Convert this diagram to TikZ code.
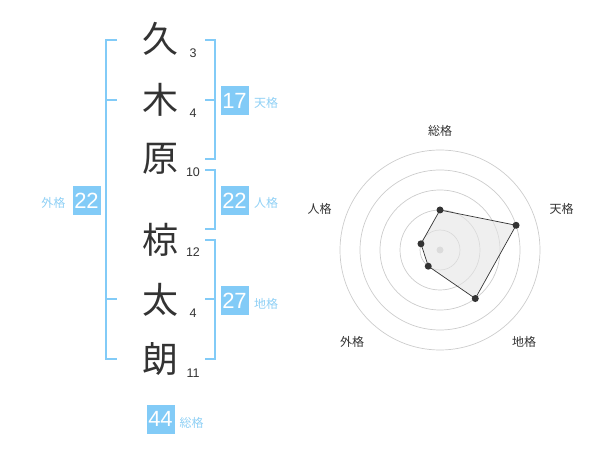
\documentclass[tikz,border=0pt]{standalone}
\usepackage{fontspec}
\setmainfont{Noto Sans CJK JP}
\newfontfamily\numfont{Liberation Sans}
\definecolor{kblue}{HTML}{82CBF7}
\definecolor{klabel}{HTML}{8FD0F5}
\definecolor{kdark}{HTML}{333333}
\definecolor{kring}{HTML}{CCCCCC}
\begin{document}
\begin{tikzpicture}[x=1pt,y=-1pt,
  kanji/.style={font=\fontsize{36}{36}\selectfont, text=kdark, inner sep=0pt},
  strokes/.style={font=\numfont\fontsize{12.5}{12.5}\selectfont, text=kdark, inner sep=0pt},
  numbox/.style={fill=kblue, text=white, minimum width=28pt, minimum height=29pt, inner sep=0pt, font=\numfont\fontsize{22}{22}\selectfont},
  kaku/.style={text=klabel, font=\fontsize{12}{12}\selectfont, inner sep=0pt},
  bracket/.style={draw=kblue, line width=2pt},
  ring/.style={draw=kring, line width=0.7pt},
  rlabel/.style={text=kdark, font=\fontsize{12}{12}\selectfont, inner sep=0pt},
  dot/.style={circle, fill=kdark, inner sep=0pt, minimum size=7pt}
]
\useasboundingbox (0,0) rectangle (600,470);
% characters
\node[kanji] (c1) at (160,39) {久};
\node[kanji] (c2) at (160,100) {木};
\node[kanji] (c3) at (160,159) {原};
\node[kanji] (c4) at (160,240) {椋};
\node[kanji] (c5) at (160,300) {太};
\node[kanji] (c6) at (160,359) {朗};
\node[strokes] (s1) at (193,53) {3};
\node[strokes] (s2) at (193,113) {4};
\node[strokes] (s3) at (193,172.5) {10};
\node[strokes] (s4) at (193,252.5) {12};
\node[strokes] (s5) at (193,313) {4};
\node[strokes] (s6) at (193,373) {11};
% brackets
\draw[bracket] (117,40) -- (106,40) -- (106,359.3) -- (117,359.3);
\draw[bracket] (106,100) -- (117,100);
\draw[bracket] (106,299.3) -- (117,299.3);
\draw[bracket] (205,40) -- (214.5,40) -- (214.5,159.3) -- (205,159.3);
\draw[bracket] (205,100) -- (214.5,100);
\draw[bracket] (205,170) -- (214.5,170) -- (214.5,229.3) -- (205,229.3);
\draw[bracket] (205,240) -- (214.5,240) -- (214.5,359.3) -- (205,359.3);
\draw[bracket] (205,299.3) -- (214.5,299.3);
% boxes
\node[numbox] (ten) at (234.5,100.5) {17};
\node[kaku] (tenl) at (266,103) {天格};
\node[numbox] (jin) at (234.5,200.5) {22};
\node[kaku] (jinl) at (266,203) {人格};
\node[numbox] (chi) at (234.5,300.5) {27};
\node[kaku] (chil) at (266,303.5) {地格};
\node[numbox] (gai) at (86.5,200.5) {22};
\node[kaku] (gail) at (53.5,203) {外格};
\node[numbox] (sou) at (160.5,419) {44};
\node[kaku] (soul) at (191.5,422.5) {総格};
% radar
\foreach \r in {20,40,60,80,100} \draw[ring] (440,250) circle[radius=\r];
\fill[kring] (440,250) circle[radius=3.5];
\coordinate (pS) at (440,210);
\coordinate (pT) at (516.08,225.28);
\coordinate (pC) at (475.27,298.54);
\coordinate (pG) at (428.24,266.18);
\coordinate (pJ) at (420.98,243.82);
\filldraw[fill=black!10, fill opacity=0.6, draw=kdark, line width=0.7pt] (pS) -- (pT) -- (pC) -- (pG) -- (pJ) -- cycle;
\foreach \p in {pS,pT,pC,pG,pJ} \node[dot] at (\p) {};
\node[rlabel] (rS) at (440,130.5) {総格};
\node[rlabel] (rT) at (561.5,208.5) {天格};
\node[rlabel] (rC) at (524,342) {地格};
\node[rlabel] (rG) at (352,342) {外格};
\node[rlabel] (rJ) at (319.5,208.5) {人格};
\end{tikzpicture}
\end{document}
